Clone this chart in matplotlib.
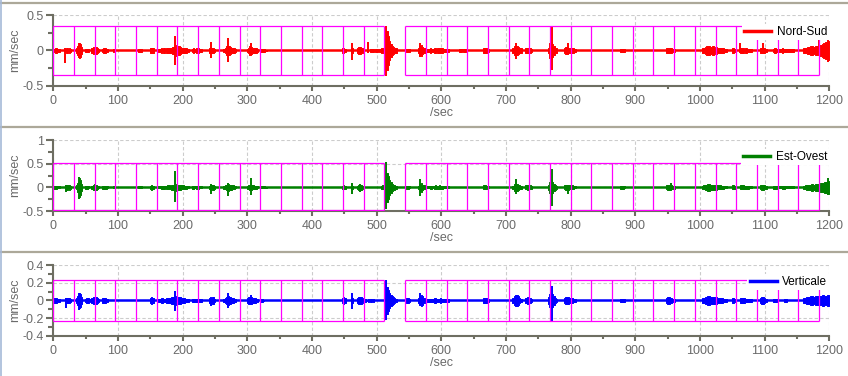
import numpy as np
import matplotlib.pyplot as plt
from matplotlib.lines import Line2D

plt.rcParams['font.family'] = ['Liberation Sans', 'DejaVu Sans']

# analysis windows (sec)
WIN_A = [0, 32, 64, 96, 128, 160, 192, 224, 256, 288, 320, 352, 384, 416, 448, 480, 512]
WIN_B = [544, 576, 608, 640, 672, 704, 736, 768, 800, 832, 864, 896, 928, 960,
         992, 1024, 1056, 1088, 1120, 1152, 1184]

# signal envelope: (start sec, amplitude every 2 s in 0.01 mm/sec)
NS_BURSTS = [
    (0, [2, 3, 3, 2, 2]), (18, [2, 3, 2, 3, 2]), (35, [3, 6, 10, 9, 5]), (49, [2, 2, 2]),
    (59, [3, 5, 4, 5, 3, 2]), (75, [2, 3, 3, 2, 2]), (92, [2]), (131, [2, 2, 2]),
    (149, [3, 4, 3]), (162, [2, 2, 3, 2, 3, 2, 3, 3, 4, 3, 4, 5]),
    (190, [8, 7, 6, 5, 4, 4, 3, 3, 2, 2]), (214, [2, 3, 2, 3, 2, 3, 2, 2]),
    (240, [3, 4, 3, 4, 2]), (263, [2, 4, 6, 7, 6, 5, 4, 4, 3, 2]),
    (299, [2, 4, 6, 5, 4, 3, 3, 3, 2]), (320, [2, 2, 2, 2, 1]),
    (446, [3, 3, 2]), (460, [3, 3]), (469, [3, 5, 5, 4, 3]), (490, [2, 2, 2, 1, 2, 2, 1, 2]),
    (507, [3, 4, 3]), (515, [27, 20, 14, 9, 7, 5, 4, 3]), (546, [2, 2, 2]),
    (564, [3, 6, 8, 5, 4, 3, 2]), (578, [2, 2, 3, 2, 2, 3, 3, 2, 3, 3, 3, 3, 2, 2, 2, 2, 2]),
    (628, [2, 2, 1, 2, 2, 1]), (665, [3, 3, 3, 2]), (710, [3, 6, 7, 6, 5, 4, 3]),
    (730, [3, 4, 4, 3, 2]), (765, [4, 10, 12, 9, 6, 4, 3]),
    (789, [3, 5, 5, 4, 3, 3, 3, 3, 2, 2]), (876, [2, 2, 2, 2]), (947, [3, 4, 4, 3, 3, 2, 2]),
    (1003, [3, 4, 5, 6, 6, 6, 5, 5, 6, 5, 4, 5, 4, 4, 3, 3, 3, 2, 2]), (1049, [3, 3, 2]),
    (1062, [3, 3, 3, 2, 3, 2, 2, 2, 2]), (1093, [3, 4, 4, 3, 2]),
    (1113, [2, 3, 2, 2, 2, 2, 2, 3, 2, 2, 2, 2, 2, 2, 2, 2]),
    (1160, [3, 4, 4, 5, 5, 6, 6, 5, 5, 6, 6, 7, 8, 8, 9, 10, 11, 12, 12, 13]),
]
# single peaks: (sec, max, min) in mm/sec
NS_SPIKES = [(18.6, 0.03, -0.18), (40, 0.10, -0.11), (188.6, 0.20, -0.20), (244, 0.12, -0.10),
             (270.6, 0.18, -0.16), (305, 0.10, -0.07), (462, 0.10, -0.13), (486, 0.12, -0.04),
             (514.5, 0.35, -0.36), (567, 0.11, -0.09), (715, 0.11, -0.12), (770.6, 0.33, -0.27),
             (796, 0.10, -0.07), (1062, 0.11, -0.03), (1098, 0.10, -0.04), (1184.5, 0.19, -0.05),
             (1198, 0.15, -0.16)]

EO_BURSTS = [
    (0, [3, 3, 3, 2, 2]), (18, [3, 5, 4, 5, 3]), (35, [4, 10, 20, 16, 8]), (49, [3, 3, 2]),
    (59, [3, 5, 6, 5, 3, 2]), (75, [3, 3, 3, 3, 2]), (92, [2]), (131, [2, 2, 2]),
    (149, [3, 5, 3]), (162, [2, 2, 3, 3, 3, 2, 3, 4, 4, 3, 5, 6]),
    (190, [7, 6, 6, 5, 4, 4, 3, 3, 2, 2]), (214, [3, 3, 2, 3, 3, 3, 2, 2]),
    (240, [3, 5, 4, 5, 3]), (263, [3, 4, 6, 7, 6, 5, 5, 4, 3, 2]),
    (299, [3, 4, 6, 5, 4, 4, 3, 3, 2]), (320, [2, 2, 2, 2, 1]),
    (446, [3, 4, 3]), (460, [3, 3]), (469, [3, 6, 6, 5, 3]), (507, [3, 4, 3]),
    (515, [30, 24, 16, 11, 8, 6, 5, 3]), (546, [3, 3, 2]), (564, [3, 8, 10, 6, 4, 3, 2]),
    (578, [2, 2, 3, 3, 2, 3, 4, 3, 3, 4, 3, 3, 2, 2, 2, 2, 2]), (665, [4, 4, 3, 2]),
    (710, [3, 7, 8, 7, 5, 4, 3]), (730, [4, 6, 6, 4, 3]), (765, [5, 12, 15, 12, 8, 5, 3]),
    (789, [4, 6, 6, 5, 4, 4, 4, 3, 2, 2]), (876, [3, 3, 3, 2]), (947, [4, 6, 6, 5, 4, 3, 3]),
    (1003, [3, 4, 5, 6, 7, 7, 6, 5, 6, 5, 5, 5, 4, 4, 4, 3, 3, 2, 2]), (1049, [4, 4, 3]),
    (1062, [4, 4, 4, 3, 3, 3, 3, 2, 2]), (1093, [4, 5, 5, 4, 3]),
    (1113, [3, 3, 3, 2, 2, 2, 2, 3, 3, 2, 2, 2, 2, 2, 2, 2]),
    (1160, [3, 4, 5, 5, 6, 6, 7, 6, 6, 7, 7, 8, 8, 9, 10, 10, 11, 12, 12, 13]),
]
EO_SPIKES = [(19, 0.05, -0.09), (40, 0.22, -0.25), (65, 0.08, -0.04), (188.6, 0.35, -0.32),
             (244, 0.08, -0.15), (270, 0.10, -0.18), (305, 0.20, -0.16), (462, 0.10, -0.15),
             (474, 0.08, -0.09), (514.5, 0.53, -0.46), (567, 0.18, -0.18), (715, 0.18, -0.13),
             (771, 0.38, -0.39), (796, 0.06, -0.13), (955, 0.10, -0.05), (1198, 0.19, -0.16)]

V_BURSTS = [
    (0, [3, 3, 3, 2, 2]), (18, [3, 3, 3, 3, 2]), (35, [3, 5, 8, 7, 4]), (49, [2, 3, 3, 2]),
    (59, [3, 4, 4, 4, 3, 2]), (75, [3, 3, 3, 2, 2]), (149, [3, 4, 3]),
    (162, [2, 2, 3, 3, 2, 2, 3, 3, 3, 3, 4, 4]), (190, [5, 4, 4, 4, 3, 3, 3, 2, 2, 2]),
    (214, [2, 2, 2, 2, 2, 2, 2, 2]), (240, [3, 4, 3, 4, 2]),
    (263, [2, 3, 4, 5, 4, 4, 3, 3, 2, 2]), (299, [3, 4, 4, 4, 3, 3, 3, 2, 2]), (320, [2, 2, 1]),
    (446, [3, 4, 3]), (460, [3, 3]), (469, [3, 4, 4, 4, 3]), (480, [2, 2, 1, 2, 1, 2, 1, 2]),
    (515, [15, 12, 9, 6, 5, 4, 3, 2]), (546, [3, 3, 2]), (564, [3, 5, 6, 5, 3, 2, 2]),
    (578, [2, 2, 2, 2, 2, 3, 3, 2, 2, 2, 3, 2, 2, 2, 2, 2, 2]), (665, [3, 3, 3, 2]),
    (710, [3, 5, 6, 6, 5, 3, 2]), (730, [3, 4, 4, 3, 2]), (765, [4, 7, 9, 7, 5, 3, 2]),
    (789, [3, 4, 4, 4, 3, 3, 3, 2, 2, 2]), (876, [2, 2, 2, 2]), (947, [3, 4, 4, 3, 3, 2, 2]),
    (1003, [3, 3, 4, 4, 5, 5, 4, 4, 4, 4, 4, 4, 3, 3, 3, 3, 2, 2, 2]), (1049, [3, 3, 2]),
    (1062, [3, 3, 3, 3, 2, 2, 2, 2, 2]), (1093, [3, 4, 4, 3, 2]), (1113, [2, 2, 2]),
    (1130, [2, 2]),
    (1160, [3, 3, 4, 4, 4, 5, 5, 4, 4, 5, 5, 5, 5, 5, 6, 6, 5, 5, 6, 6]),
]
V_SPIKES = [(19, 0.03, -0.09), (40, 0.08, -0.11), (188.6, 0.11, -0.12), (244, 0.03, -0.06),
            (270, 0.09, -0.09), (305, 0.06, -0.03), (462, 0.08, -0.10), (514.5, 0.23, -0.22),
            (567, 0.08, -0.04), (770.6, 0.16, -0.23)]

PANELS = [
    ("Nord-Sud", "#ff0000", NS_BURSTS, NS_SPIKES, (-0.5, 0.5), [-0.5, 0, 0.5],
     [-0.25, 0.25], (-0.35, 0.35)),
    ("Est-Ovest", "#008000", EO_BURSTS, EO_SPIKES, (-0.5, 1.0), [-0.5, 0, 0.5, 1],
     [-0.25, 0.25, 0.75], (-0.47, 0.52)),
    ("Verticale", "#0000ff", V_BURSTS, V_SPIKES, (-0.4, 0.4), [-0.4, -0.2, 0, 0.2, 0.4],
     [-0.3, -0.1, 0.1, 0.3], (-0.23, 0.23)),
]

AX_COL = "#6e6e62"
TXT_COL = "#6a6a6a"
MAG = "#ff00ff"

fig = plt.figure(figsize=(8.48, 3.76), dpi=100, facecolor="white")
bottoms = [0.7713, 0.4388, 0.1064]

for (name, col, bursts, spikes, ylim, yt, ymin, box), b in zip(PANELS, bottoms):
    ax = fig.add_axes([0.0629, b, 0.9151, 0.1888])
    ax.set_xlim(0, 1200)
    ax.set_ylim(*ylim)

    # baseline trace
    ax.plot([0, 1200], [0, 0], color=col, lw=1.8, solid_capstyle="butt", zorder=2)
    for t0, amps in bursts:
        a = np.array(amps + [amps[-1]]) / 100.0
        t = t0 + 2.0 * np.arange(len(a))
        ax.fill_between(t, -a, a, step="post", facecolor=col, edgecolor=col, lw=0.7, zorder=2)
    st = [s[0] for s in spikes]
    ax.vlines(st, [s[2] for s in spikes], [s[1] for s in spikes], color=col, lw=1.4, zorder=2)

    # window boxes
    for win in (WIN_A, WIN_B):
        ax.vlines(win, box[0], box[1], color=MAG, lw=0.9, zorder=3)
        ax.hlines(box, win[0], win[-1], color=MAG, lw=0.9, zorder=3)

    ax.set_xticks(np.arange(0, 1201, 100))
    ax.set_xticks(np.arange(50, 1200, 100), minor=True)
    ax.set_yticks(yt)
    ax.set_yticks(ymin, minor=True)
    ax.set_yticklabels([("%g" % v) for v in yt])

    ax.grid(True, which="major", color="#cccccc", ls=(0, (3, 2)), lw=0.8)
    ax.set_axisbelow(True)
    for s in ("top", "right"):
        ax.spines[s].set_visible(False)
    for s in ("left", "bottom"):
        ax.spines[s].set_color(AX_COL)
        ax.spines[s].set_linewidth(1.5)
    ax.tick_params(axis="y", which="major", length=5, width=1.5, color=AX_COL,
                   labelcolor=TXT_COL, labelsize=9, pad=2)
    ax.tick_params(axis="y", which="minor", length=3.5, width=1.5, color=AX_COL)
    ax.tick_params(axis="x", which="major", length=3.5, width=1.5, color=AX_COL,
                   labelcolor=TXT_COL, labelsize=9, pad=3)
    ax.tick_params(axis="x", which="minor", length=2.5, width=1.5, color=AX_COL)

    ax.set_ylabel("mm/sec", color=TXT_COL, fontsize=9, labelpad=1)
    ax.set_xlabel("/sec", color=TXT_COL, fontsize=9, labelpad=0)

    leg = ax.legend([Line2D([], [], color=col, lw=2.5)], [name], loc="upper right",
                    bbox_to_anchor=(1.0, 0.88), frameon=True, fancybox=False,
                    facecolor="white", edgecolor="none", framealpha=1, fontsize=8.5,
                    borderpad=0.2, borderaxespad=0, handlelength=2.3, handletextpad=0.45)
    leg.set_zorder(5)

# window frame lines between the panels
for y in (0.993, 0.661, 0.329):
    fig.add_artist(Line2D([0, 1], [y, y], color="#aca899", lw=1.6))
fig.add_artist(Line2D([0.001, 0.001], [0, 1], color="#a6bad8", lw=1.2))

fig.savefig("out.png", dpi=100, facecolor="white")
